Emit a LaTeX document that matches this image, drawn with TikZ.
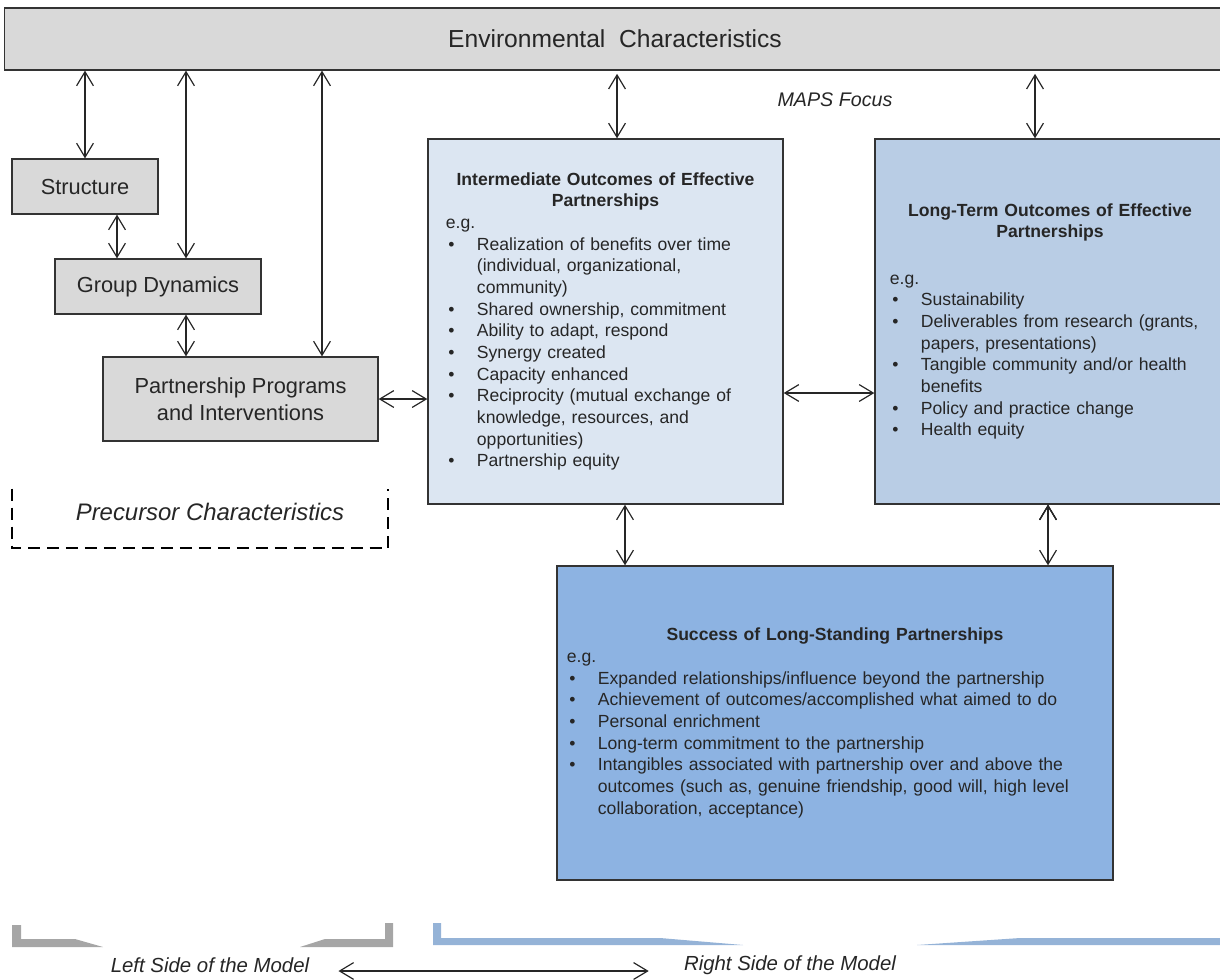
\documentclass[tikz,border=0pt]{standalone}
\usepackage{fontspec}
\setmainfont{Liberation Sans}
\usetikzlibrary{arrows.meta}
\setlength{\parskip}{0pt}
\definecolor{boxgray}{HTML}{D9D9D9}
\definecolor{paleblue}{HTML}{DCE6F2}
\definecolor{midblue}{HTML}{B9CDE5}
\definecolor{deepblue}{HTML}{8DB3E2}
\definecolor{bargray}{HTML}{A6A6A6}
\definecolor{barblue}{HTML}{95B3D7}
\newcommand{\bodyfont}{\fontsize{12.5}{15.4}\selectfont}
\newcommand{\bitem}{\par\noindent\hangindent=0.775cm\hangafter=1\makebox[0.775cm][l]{\hspace{0.06cm}\textbullet}}

\begin{document}
\begin{tikzpicture}[x=0.025cm, y=-0.025cm,
    >={Straight Barb[length=3.5mm,width=4.2mm]},
    every node/.style={text=black!85},
    graybox/.style={draw=black!80, line width=0.9pt, fill=boxgray, align=center,
        font=\fontsize{15.5}{19}\selectfont},
    outbox/.style={draw=black!80, line width=0.9pt, inner ysep=0pt, align=left, font=\bodyfont},
    link/.style={<->, line width=0.85pt, draw=black!85}]

    \useasboundingbox (0,0) rectangle (1220,979);

    \node[graybox, minimum width=30.5cm, minimum height=1.55cm,
          font=\fontsize{17.5}{20}\selectfont] (env) at (615,39) {Environmental\ \ Characteristics};
    \node[font=\fontsize{14}{16}\selectfont\itshape] (maps) at (835,100) {MAPS Focus};

    \node[graybox, minimum width=3.65cm, minimum height=1.375cm] (struct) at (85,186.5) {Structure};
    \node[graybox, minimum width=5.15cm, minimum height=1.375cm] (grp) at (158,286.5) {Group Dynamics};
    \node[graybox, minimum width=6.875cm, minimum height=2.1cm] (prog) at (240.5,399) {Partnership Programs\\and Interventions};

    \node[minimum width=9.4cm, minimum height=1.475cm, inner sep=0pt] (pre) at (200,518.5) {};
    \draw[line width=1.4pt, dash pattern=on 8.5pt off 5pt]
        (pre.north west) -- (pre.south west) -- (pre.south east) -- (pre.north east);
    \node[font=\fontsize{17}{20}\selectfont\itshape] (prelabel) at (210,512) {Precursor Characteristics};

    \node[outbox, fill=paleblue, text width=7.975cm, inner xsep=0.45cm, minimum height=9.125cm] (inter) at (605.5,321.5) {%
        {\centering\bfseries Intermediate Outcomes of Effective\\Partnerships\par}
        \noindent e.g.
        \bitem Realization of benefits over time\newline (individual, organizational,\newline community)
        \bitem Shared ownership, commitment
        \bitem Ability to adapt, respond
        \bitem Synergy created
        \bitem Capacity enhanced
        \bitem Reciprocity (mutual exchange of\newline knowledge, resources, and\newline opportunities)
        \bitem Partnership equity\par};

    \node[outbox, fill=midblue, text width=8cm, inner xsep=0.375cm, minimum height=9.125cm] (longterm) at (1050,321.5) {%
        {\centering\bfseries Long-Term Outcomes of Effective\\Partnerships\par}
        \vspace{0.62cm}
        \noindent e.g.
        \bitem Sustainability
        \bitem Deliverables from research (grants,\newline papers, presentations)
        \bitem Tangible community and/or health\newline benefits
        \bitem Policy and practice change
        \bitem Health equity\par};

    \node[outbox, fill=deepblue, text width=13.4cm, inner xsep=0.25cm, minimum height=7.85cm] (success) at (835,723) {%
        {\centering\bfseries Success of Long-Standing Partnerships\par}
        \noindent e.g.
        \bitem Expanded relationships/influence beyond the partnership
        \bitem Achievement of outcomes/accomplished what aimed to do
        \bitem Personal enrichment
        \bitem Long-term commitment to the partnership
        \bitem Intangibles associated with partnership over and above the\newline outcomes (such as, genuine friendship, good will, high level\newline collaboration, acceptance)\par};

    \coordinate (xa) at (186,0);
    \coordinate (xb) at (322,0);
    \coordinate (xc) at (117,0);
    \coordinate (xd) at (617,0);
    \coordinate (xe) at (1035,0);
    \coordinate (xf) at (625,0);
    \coordinate (xg) at (1048,0);
    \coordinate (ya) at (0,393);

    \path[link]
        (env.south -| struct.north) edge (struct.north)
        (env.south -| xa) edge (grp.north -| xa)
        (env.south -| xb) edge (prog.north -| xb)
        (struct.south -| xc) edge (grp.north -| xc)
        (grp.south -| xa) edge (prog.north -| xa)
        (prog.east) edge (inter.west |- prog.east)
        ([yshift=-0.08cm]env.south -| xd) edge (inter.north -| xd)
        ([yshift=-0.08cm]env.south -| xe) edge (longterm.north -| xe)
        (inter.east |- ya) edge (longterm.west |- ya)
        (inter.south -| xf) edge (success.north -| xf)
        (longterm.south -| xg) edge (success.north -| xg);

    \fill[bargray] (12,925) -- (21,925) -- (21,939) -- (75,939) -- (103,947) -- (12,947) -- cycle;
    \fill[bargray] (300,947) -- (325,939) -- (385,939) -- (385,923) -- (393,923) -- (393,947) -- cycle;
    \fill[barblue] (433,923) -- (441,923) -- (441,938) -- (660,938) -- (743,945) -- (433,945) -- cycle;
    \fill[barblue] (917,945) -- (1020,938) -- (1225,938) -- (1225,945) -- cycle;

    \node[inner sep=0pt, font=\fontsize{14.5}{17}\selectfont\itshape] (lside) at (210,965) {Left Side of the Model};
    \node[inner sep=0pt, font=\fontsize{14.5}{17}\selectfont\itshape] (rside) at (790,965) {Right Side of the Model};
    \draw[link] ([xshift=0.725cm,yshift=-0.15cm]lside.east) -- ([xshift=-0.875cm,yshift=-0.15cm]rside.west);
\end{tikzpicture}
\end{document}
